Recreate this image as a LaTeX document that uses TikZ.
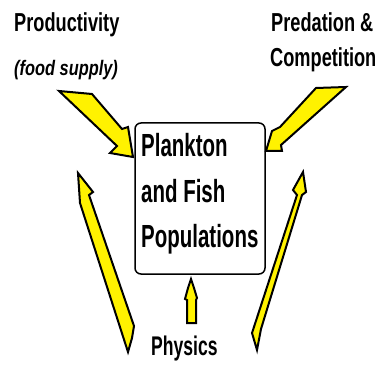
\documentclass[tikz,border=0pt]{standalone}
\usepackage{fontspec}
\newfontfamily\labf[FakeStretch=0.70]{Liberation Sans}
\newfontfamily\subf[FakeStretch=0.78]{Liberation Sans}
\newfontfamily\boxfont[FakeStretch=0.64]{Liberation Sans}
\newfontfamily\physf[FakeStretch=0.65]{Liberation Sans}
\begin{document}
\begin{tikzpicture}[x=1pt,y=-1pt,
  bolt/.style={fill=yellow, draw=black, line width=2pt, line join=miter},
  lbl/.style={inner sep=0pt, anchor=base west, font=\labf\bfseries\fontsize{26}{30}\selectfont},
  sublbl/.style={inner sep=0pt, anchor=base west, font=\subf\bfseries\itshape\fontsize{21}{24}\selectfont},
  boxtxt/.style={inner sep=0pt, anchor=base west, font=\boxfont\bfseries\fontsize{32}{36}\selectfont},
  phys/.style={inner sep=0pt, anchor=base west, font=\physf\bfseries\fontsize{27}{31}\selectfont},
  popbox/.style={draw, line width=1.5pt, rounded corners=6pt, minimum width=130pt, minimum height=151pt, inner sep=0pt}]
\useasboundingbox (0,0) rectangle (380,366);
% labels
\node[lbl] (prod) at (14,32) {Productivity};
\node[sublbl] (food) at (14,76) {(food supply)};
\node[lbl] (pred) at (271,32) {Predation \&};
\node[lbl] (comp) at (270,67) {Competition};
\node[phys] (physics) at (151,355) {Physics};
% central box
\node[popbox] (box) at (200,198.5) {};
\node[boxtxt] (l1) at (141,157) {Plankton};
\node[boxtxt] (l2) at (141,203) {and Fish};
\node[boxtxt] (l3) at (141,247) {Populations};
% arrows
\draw[bolt] (59,91) -- (92,94) -- (122,129) -- (128,127) -- (133,157) -- (110,153) -- (117,146) -- cycle;
\draw[bolt] (316,88) -- (346,87) -- (281,145) -- (282,151) -- (266,151) -- (272,131) -- (280,127) -- cycle;
\draw[bolt] (78,173) -- (93,192) -- (89,195) -- (134,326) -- (132,338) -- (128,352) -- (80,203) -- cycle;
\draw[bolt] (303,172) -- (306,192) -- (302,195) -- (261,329) -- (257,350) -- (252,333) -- (297,195) -- (293,190) -- cycle;
\draw[bolt] (191,279) -- (194,288) -- (197,298) -- (196,300) -- (196,323) -- (187,323) -- (187,300) -- (185,299) -- (188,288) -- cycle;
\end{tikzpicture}
\end{document}
